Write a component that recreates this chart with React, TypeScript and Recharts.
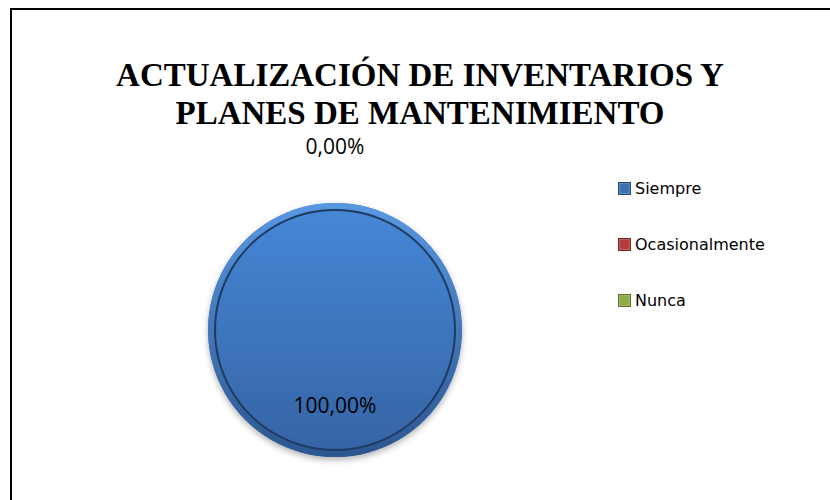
import React from "react";
import { PieChart, Pie, Cell, Legend } from "recharts";

const categories = ["Siempre", "Ocasionalmente", "Nunca"];
const values = [100, 0, 0];
const labels = ["100,00%", "0,00%", "0,00%"];
const titleLines = ["ACTUALIZACIÓN DE INVENTARIOS Y", "PLANES DE MANTENIMIENTO"];
const colors = ["url(#blueGrad)", "#c0504d", "#9bbb59"];
const legendColors = ["#3c6fb0", "#b23c3a", "#8aab45"];

const data = categories.map((name, i) => ({ name, value: values[i], label: labels[i] }));

const RAD = Math.PI / 180;

const renderLabel = (props: any) => {
  const { cx, cy, midAngle, outerRadius, index, value } = props;
  if (value === 0 && index !== 1) return null;
  const r = value > 0 ? outerRadius * 0.59 : outerRadius + 57;
  const x = cx + r * Math.cos(-midAngle * RAD);
  const y = cy + r * Math.sin(-midAngle * RAD);
  return (
    <text
      x={x}
      y={y}
      textAnchor="middle"
      dominantBaseline="central"
      fill="#000"
      style={{ fontFamily: "'Open Sans', sans-serif", fontSize: 21 }}
    >
      {data[index].label}
    </text>
  );
};

const renderLegend = () => (
  <div style={{ display: "flex", flexDirection: "column" }}>
    {categories.map((c, i) => (
      <div key={c} style={{ display: "flex", alignItems: "center", height: 56 }}>
        <span
          style={{
            display: "inline-block",
            width: 11,
            height: 11,
            background: legendColors[i],
            border: "1px solid rgba(0,0,0,0.35)",
            boxShadow: "inset 0 0 2px rgba(255,255,255,0.6)",
            marginRight: 4,
          }}
        />
        <span style={{ fontFamily: "'DejaVu Sans', sans-serif", fontSize: 16, color: "#000" }}>{c}</span>
      </div>
    ))}
  </div>
);

const titleStyle: React.CSSProperties = {
  position: "absolute",
  left: 0,
  width: 840,
  height: 30,
  textAlign: "center",
  fontFamily: "'Liberation Serif', serif",
  fontWeight: "bold",
  fontSize: 33,
  lineHeight: "30px",
  color: "#000",
  whiteSpace: "nowrap",
};

export default function App() {
  return (
    <div style={{ position: "absolute", left: 0, top: 0, width: 830, height: 500, background: "#fff" }}>
      <div
        style={{
          position: "absolute",
          left: 10,
          top: 8,
          width: 830,
          height: 500,
          borderLeft: "2px solid #000",
          borderTop: "2px solid #000",
        }}
      />
      <div style={{ ...titleStyle, top: 60 }}>{titleLines[0]}</div>
      <div style={{ ...titleStyle, top: 98 }}>{titleLines[1]}</div>
      <PieChart width={830} height={500} style={{ position: "absolute", left: 0, top: 0 }}>
        <defs>
          <linearGradient id="blueGrad" x1="0" y1="0" x2="0" y2="1">
            <stop offset="0%" stopColor="#4688d8" />
            <stop offset="100%" stopColor="#3563a3" />
          </linearGradient>
          <linearGradient id="rimGrad" x1="0" y1="0" x2="0" y2="1">
            <stop offset="0%" stopColor="#5a98e2" />
            <stop offset="100%" stopColor="#2c5690" />
          </linearGradient>
          <filter id="shadow" x="-20%" y="-20%" width="140%" height="140%">
            <feDropShadow dx="0" dy="3" stdDeviation="3" floodColor="#000" floodOpacity="0.3" />
          </filter>
        </defs>
        <Pie
          data={data}
          dataKey="value"
          nameKey="name"
          cx={330}
          cy={325}
          outerRadius={127}
          startAngle={90}
          endAngle={-270}
          stroke="none"
          label={renderLabel}
          labelLine={false}
          isAnimationActive={false}
          style={{ filter: "url(#shadow)" }}
        >
          {data.map((d, i) => (
            <Cell key={d.name} fill={colors[i]} stroke="none" />
          ))}
        </Pie>
        <Pie
          data={data}
          dataKey="value"
          cx={330}
          cy={325}
          innerRadius={121}
          outerRadius={127}
          startAngle={90}
          endAngle={-270}
          stroke="none"
          legendType="none"
          isAnimationActive={false}
        >
          {data.map((d, i) => (
            <Cell key={d.name} fill={i === 0 ? "url(#rimGrad)" : colors[i]} stroke="none" />
          ))}
        </Pie>
        <Pie
          data={data}
          dataKey="value"
          cx={330}
          cy={325}
          innerRadius={119}
          outerRadius={121}
          startAngle={90}
          endAngle={-270}
          stroke="none"
          legendType="none"
          isAnimationActive={false}
        >
          {data.map((d, i) => (
            <Cell key={d.name} fill={i === 0 ? "#1f3b62" : colors[i]} stroke="none" />
          ))}
        </Pie>
        <Legend
          layout="vertical"
          align="right"
          verticalAlign="top"
          content={renderLegend}
          wrapperStyle={{ left: 618, top: 160, width: 200 }}
        />
      </PieChart>
    </div>
  );
}
